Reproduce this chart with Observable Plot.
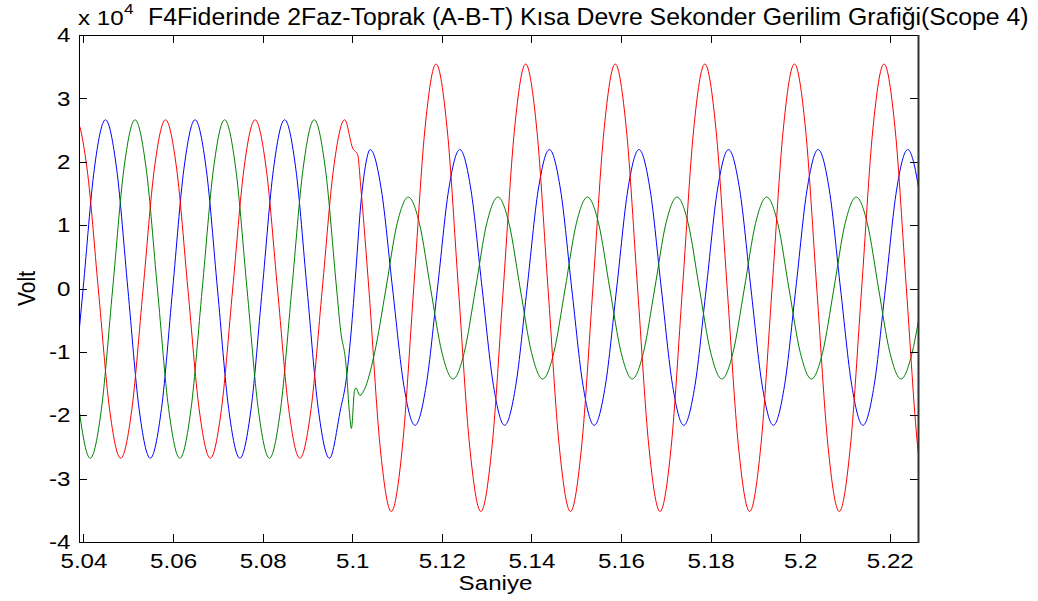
<!DOCTYPE html>
<html>
<head>
<meta charset="utf-8">
<script src="https://cdn.jsdelivr.net/npm/d3@7"></script>
<script src="https://cdn.jsdelivr.net/npm/@observablehq/plot@0.6"></script>
<style>
  html, body { margin: 0; padding: 0; background: #fff; }
  svg { display: block; }
</style>
</head>
<body>
<div id="chart"></div>
<script>
// Phase A (red) — time (s) and voltage (x 10^4 V)
const redTime = [
  5.0357, 5.0382, 5.0407, 5.0432, 5.0457, 5.0482, 5.0507, 5.0532, 5.0557, 5.0582,
  5.0607, 5.0632, 5.0657, 5.0682, 5.0707, 5.0732, 5.0757, 5.0782, 5.0807, 5.0832,
  5.0857, 5.0882, 5.0907, 5.0932, 5.0957, 5.0982,
  5.1, 5.1011, 5.1018, 5.1036,
  5.1061, 5.1086, 5.1111, 5.1136, 5.1161, 5.1186, 5.1211, 5.1236, 5.1261, 5.1286,
  5.1311, 5.1336, 5.1361, 5.1386, 5.1411, 5.1436, 5.1461, 5.1486, 5.1511, 5.1536,
  5.1561, 5.1586, 5.1611, 5.1636, 5.1661, 5.1686, 5.1711, 5.1736, 5.1761, 5.1786,
  5.1811, 5.1836, 5.1861, 5.1886, 5.1911, 5.1936, 5.1961, 5.1986, 5.2011, 5.2036,
  5.2061, 5.2086, 5.2111, 5.2136, 5.2161, 5.2186, 5.2211, 5.2236, 5.2261, 5.2286
];
const redVolt = [
  1.89, 2.67, 1.89, 0, -1.89, -2.67, -1.89, 0, 1.89, 2.67,
  1.89, 0, -1.89, -2.67, -1.89, 0, 1.89, 2.67, 1.89, 0,
  -1.89, -2.67, -1.89, 0, 1.89, 2.67,
  2.22, 2.12, 1.6, 0,
  -2.48, -3.51, -2.48, 0, 2.51, 3.55, 2.51, 0, -2.48, -3.51,
  -2.48, 0, 2.51, 3.55, 2.51, 0, -2.48, -3.51, -2.48, 0,
  2.51, 3.55, 2.51, 0, -2.48, -3.51, -2.48, 0, 2.51, 3.55,
  2.51, 0, -2.48, -3.51, -2.48, 0, 2.51, 3.55, 2.51, 0,
  -2.48, -3.51, -2.48, 0, 2.51, 3.55, 2.51, 0, -2.48, -3.51
];
// Phase B (blue)
const blueTime = [
  5.0373, 5.0398, 5.0423, 5.0448, 5.0473, 5.0498, 5.0523, 5.0548, 5.0573, 5.0598,
  5.0623, 5.0648, 5.0673, 5.0698, 5.0723, 5.0748, 5.0773, 5.0798, 5.0823, 5.0848,
  5.0873, 5.0898, 5.0923, 5.0948, 5.0973,
  5.0985, 5.0996, 5.1007, 5.1018, 5.1029,
  5.1039, 5.1064, 5.1089, 5.1114, 5.1139, 5.1164, 5.1189, 5.1214,
  5.1239, 5.1264, 5.1289, 5.1314, 5.1339, 5.1364, 5.1389, 5.1414,
  5.1439, 5.1464, 5.1489, 5.1514, 5.1539, 5.1564, 5.1589, 5.1614,
  5.1639, 5.1664, 5.1689, 5.1714, 5.1739, 5.1764, 5.1789, 5.1814,
  5.1839, 5.1864, 5.1889, 5.1914, 5.1939, 5.1964, 5.1989, 5.2014,
  5.2039, 5.2064, 5.2089, 5.2114, 5.2139, 5.2164, 5.2189, 5.2214,
  5.2239, 5.2264, 5.2289
];
const blueVolt = [
  -1.89, 0, 1.89, 2.67, 1.89, 0, -1.89, -2.67, -1.89, 0,
  1.89, 2.67, 1.89, 0, -1.89, -2.67, -1.89, 0, 1.89, 2.67,
  1.89, 0, -1.89, -2.67, -1.89,
  -1.45, -0.71, 0.29, 1.34, 1.97,
  2.2, 1.56, 0, -1.52, -2.15, -1.52, 0, 1.56,
  2.2, 1.56, 0, -1.52, -2.15, -1.52, 0, 1.56,
  2.2, 1.56, 0, -1.52, -2.15, -1.52, 0, 1.56,
  2.2, 1.56, 0, -1.52, -2.15, -1.52, 0, 1.56,
  2.2, 1.56, 0, -1.52, -2.15, -1.52, 0, 1.56,
  2.2, 1.56, 0, -1.52, -2.15, -1.52, 0, 1.56,
  2.2, 1.56, 0
];
// Phase C (green)
const greenTime = [
  5.0364, 5.0389, 5.0414, 5.0439, 5.0464, 5.0489, 5.0514, 5.0539, 5.0564, 5.0589,
  5.0614, 5.0639, 5.0664, 5.0689, 5.0714, 5.0739, 5.0764, 5.0789, 5.0814, 5.0839,
  5.0864, 5.0889, 5.0914, 5.0939, 5.0964,
  5.0973, 5.0985, 5.0992, 5.0997, 5.1004, 5.1007, 5.1016, 5.1025,
  5.1049, 5.1074, 5.1099, 5.1124, 5.1149, 5.1174, 5.1199, 5.1224,
  5.1249, 5.1274, 5.1299, 5.1324, 5.1349, 5.1374, 5.1399, 5.1424,
  5.1449, 5.1474, 5.1499, 5.1524, 5.1549, 5.1574, 5.1599, 5.1624,
  5.1649, 5.1674, 5.1699, 5.1724, 5.1749, 5.1774, 5.1799, 5.1824,
  5.1849, 5.1874, 5.1899, 5.1924, 5.1949, 5.1974, 5.1999, 5.2024,
  5.2049, 5.2074, 5.2099, 5.2124, 5.2149, 5.2174, 5.2199, 5.2224,
  5.2249, 5.2274
];
const greenVolt = [
  0, -1.89, -2.67, -1.89, 0, 1.89, 2.67, 1.89, 0, -1.89,
  -2.67, -1.89, 0, 1.89, 2.67, 1.89, 0, -1.89, -2.67, -1.89,
  0, 1.89, 2.67, 1.89, 0,
  -0.66, -1.2, -1.9, -2.2, -1.6, -1.56, -1.68, -1.6,
  -1.0, 0, 1.03, 1.45, 1.03, 0, -1.0, -1.42,
  -1.0, 0, 1.03, 1.45, 1.03, 0, -1.0, -1.42,
  -1.0, 0, 1.03, 1.45, 1.03, 0, -1.0, -1.42,
  -1.0, 0, 1.03, 1.45, 1.03, 0, -1.0, -1.42,
  -1.0, 0, 1.03, 1.45, 1.03, 0, -1.0, -1.42,
  -1.0, 0, 1.03, 1.45, 1.03, 0, -1.0, -1.42,
  -1.0, 0
];

const xTicks = [5.04, 5.06, 5.08, 5.1, 5.12, 5.14, 5.16, 5.18, 5.2, 5.22];
const xTickLabels = ["5.04", "5.06", "5.08", "5.1", "5.12", "5.14", "5.16", "5.18", "5.2", "5.22"];
const yTicks = [-4, -3, -2, -1, 0, 1, 2, 3, 4];
const yTickLabels = ["-4", "-3", "-2", "-1", "0", "1", "2", "3", "4"];

const titleText = "F4Fiderinde 2Faz-Toprak (A-B-T) Kısa Devre Sekonder Gerilim Grafiği(Scope 4)";
const xLabel = "Saniye";
const yLabel = "Volt";

const rows = (ts, vs) => ts.map((t, i) => ({t, v: vs[i]}));
const red = rows(redTime, redVolt);
const blue = rows(blueTime, blueVolt);
const green = rows(greenTime, greenVolt);

const xMap = new Map(xTicks.map((d, i) => [d, xTickLabels[i]]));
const yMap = new Map(yTicks.map((d, i) => [d, yTickLabels[i]]));

const FONT = "'Liberation Sans', Arial, Helvetica, sans-serif";
const STRETCH = 1.15;

const chart = Plot.plot({
  width: 1038,
  height: 601,
  marginLeft: 79,
  marginRight: 120,
  marginTop: 35,
  marginBottom: 59,
  style: {fontFamily: FONT, fontSize: "21px", color: "#000", background: "#fff", overflow: "visible"},
  x: {domain: [5.039, 5.2263]},
  y: {domain: [-4, 4]},
  marks: [
    Plot.line(blue, {x: "t", y: "v", stroke: "#0000ff", strokeWidth: 1, curve: "monotone-x", clip: true}),
    Plot.line(green, {x: "t", y: "v", stroke: "#008000", strokeWidth: 1, curve: "monotone-x", clip: true}),
    Plot.line(red, {x: "t", y: "v", stroke: "#ff0000", strokeWidth: 1, curve: "monotone-x", clip: true}),
    Plot.frame({stroke: "#000", strokeWidth: 1}),
    Plot.axisX(xTicks, {tickSize: 0, tickPadding: 11, tickFormat: d => xMap.get(d), label: null}),
    Plot.axisY(yTicks, {tickSize: 0, tickPadding: 9, tickFormat: d => yMap.get(d), label: null})
  ]
});
document.getElementById("chart").appendChild(chart);

const svg = d3.select(chart);
// widen tick labels like the original rendering
svg.selectAll('g[aria-label$="tick label"] text').each(function () {
  const t = this.getAttribute("transform") || "";
  this.setAttribute("transform", t + ` scale(${STRETCH},1)`);
});

const sx = chart.scale("x"), sy = chart.scale("y");
const [xl, xr] = sx.range;
const [yb, yt] = sy.range;
const TL = 8;
const tg = svg.append("g").attr("stroke", "#000").attr("stroke-width", 1).attr("fill", "none");
xTicks.forEach(v => {
  const x = Math.round(sx.apply(v)) + 0.5;
  tg.append("line").attr("x1", x).attr("x2", x).attr("y1", yb).attr("y2", yb - TL);
  tg.append("line").attr("x1", x).attr("x2", x).attr("y1", yt).attr("y2", yt + TL);
});
yTicks.forEach(v => {
  const y = Math.round(sy.apply(v)) + 0.5;
  tg.append("line").attr("x1", xl).attr("x2", xl + TL).attr("y1", y).attr("y2", y);
  tg.append("line").attr("x1", xr).attr("x2", xr - TL).attr("y1", y).attr("y2", y);
});
// heavier right border as in the original
svg.append("line").attr("x1", xr + 0.5).attr("x2", xr + 0.5).attr("y1", yt).attr("y2", yb + 1)
  .attr("stroke", "#333").attr("stroke-width", 2);

// exponent, title, axis labels
const tx = svg.append("g").attr("font-family", FONT).attr("fill", "#000").attr("text-anchor", "start");
tx.append("text").attr("transform", `translate(78,25) scale(${STRETCH},1)`).attr("font-size", 21).text("x 10");
tx.append("text").attr("transform", `translate(124,14) scale(${STRETCH},1)`).attr("font-size", 15).text("4");
tx.append("text").attr("transform", `translate(148,25)`).attr("font-size", 24.8).text(titleText);
tx.append("text").attr("transform", `translate(${(xl + xr) / 2 - 3},590) scale(${STRETCH},1)`)
  .attr("font-size", 21).attr("text-anchor", "middle").text(xLabel);
tx.append("text").attr("transform", `translate(35,${(yb + yt) / 2}) scale(${STRETCH},1) rotate(-90)`)
  .attr("font-size", 21).attr("text-anchor", "middle").text(yLabel);
</script>
</body>
</html>
